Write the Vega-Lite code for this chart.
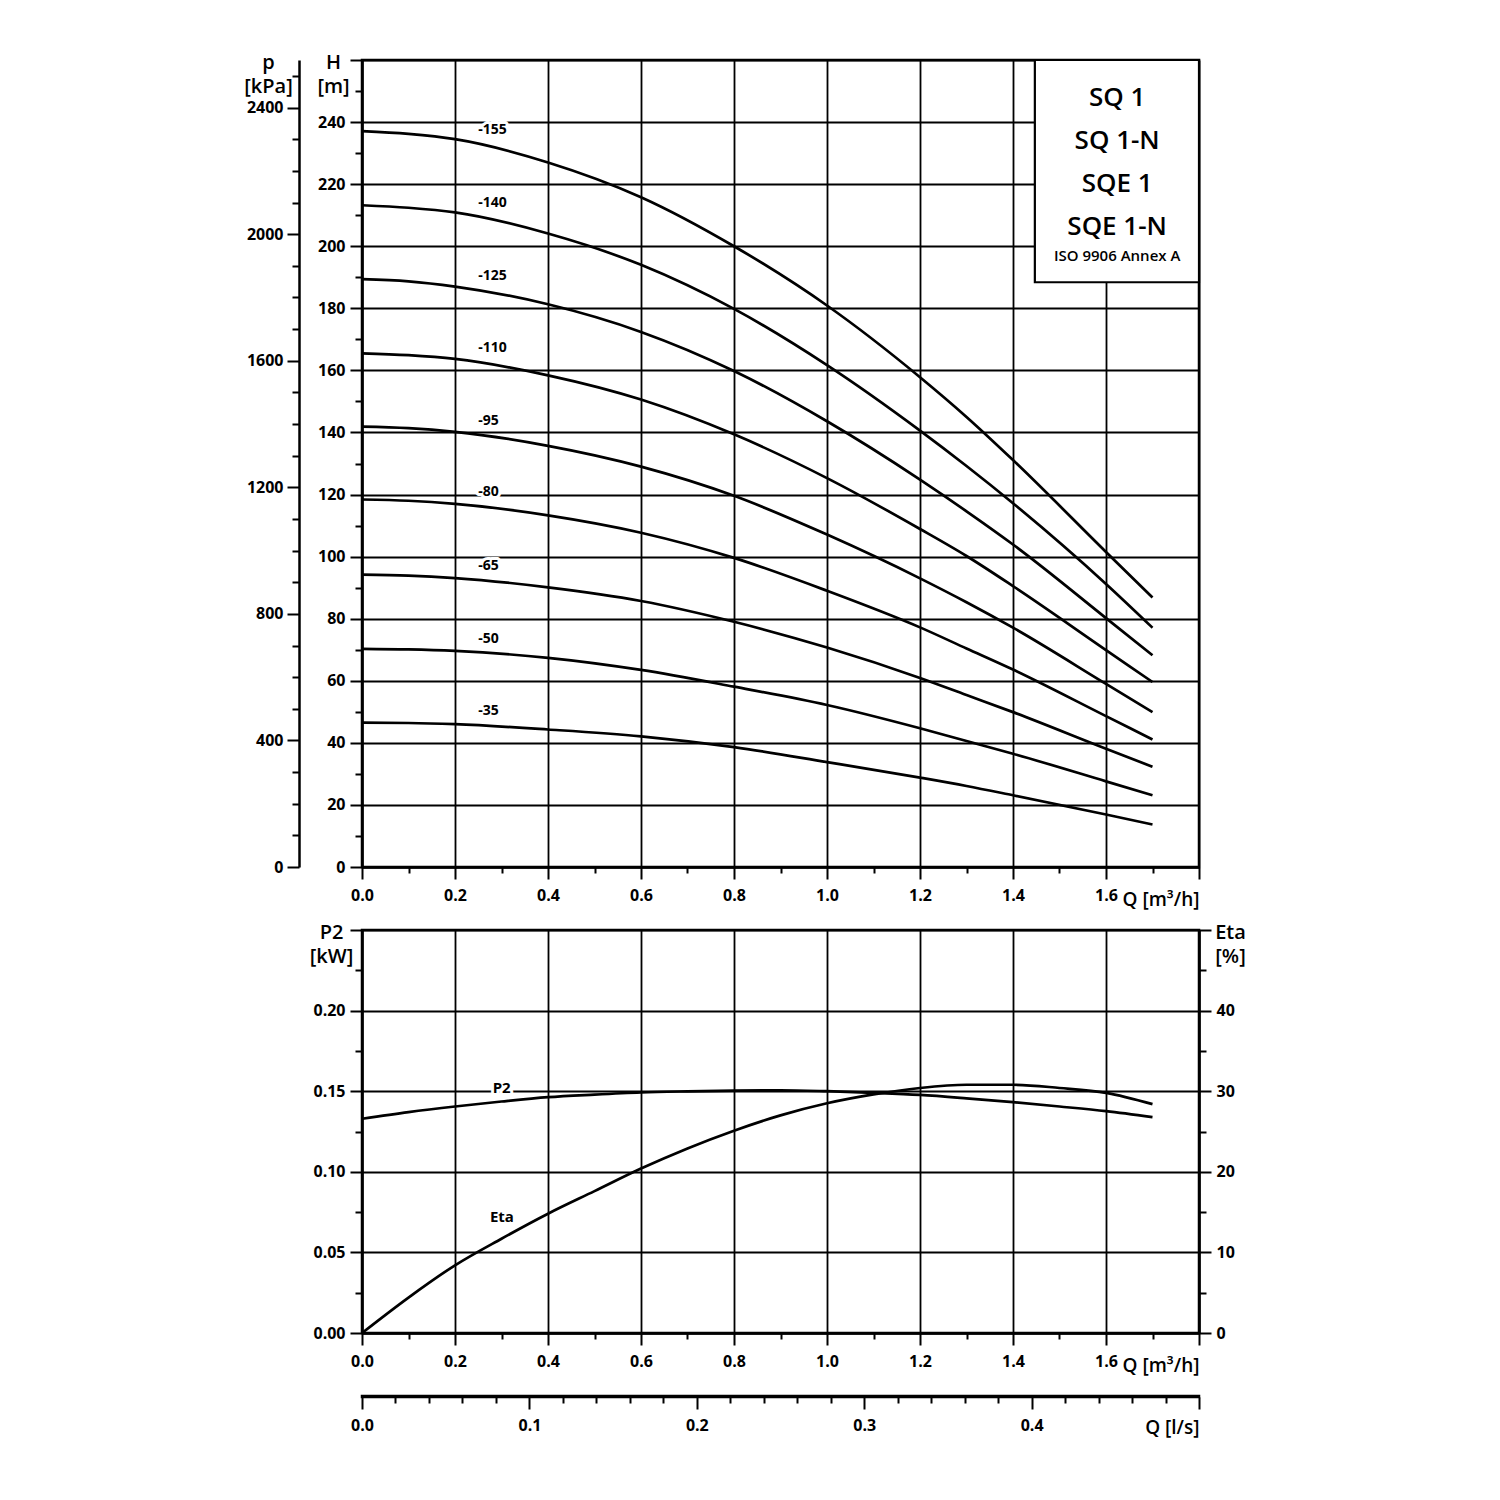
{
 "$schema": "https://vega.github.io/schema/vega-lite/v6.json",
 "background": "white",
 "padding": {"left": 242, "top": 50, "right": 10, "bottom": 10},
 "spacing": 63,
 "bounds": "flush",
 "config": {
  "font": "Open Sans",
  "view": {"stroke": "black", "strokeWidth": 2.5},
  "axis": {
   "domainColor": "black", "domainWidth": 2.5, "tickColor": "black", "tickWidth": 2,
   "gridColor": "black", "gridWidth": 1.8, "gridOpacity": 1,
   "labelColor": "black", "labelFont": "Open Sans", "labelFontSize": 16, "labelFontWeight": "bold",
   "titleColor": "black", "titleFont": "Open Sans", "titleFontSize": 20, "titleFontWeight": 600,
   "labelFlush": false, "labelOverlap": false, "labelBound": false
  }
 },
 "datasets": {
  "curves": [
   {"curve":"-155","Q":0,"H":237.1},{"curve":"-155","Q":0.1,"H":236.2},{"curve":"-155","Q":0.2,"H":234.5},{"curve":"-155","Q":0.4,"H":227.0},{"curve":"-155","Q":0.6,"H":215.8},{"curve":"-155","Q":0.8,"H":200.0},{"curve":"-155","Q":1.0,"H":180.9},{"curve":"-155","Q":1.2,"H":157.8},{"curve":"-155","Q":1.3,"H":145.0},{"curve":"-155","Q":1.4,"H":131.1},{"curve":"-155","Q":1.6,"H":101.5},{"curve":"-155","Q":1.7,"H":86.8},
   {"curve":"-140","Q":0,"H":213.2},{"curve":"-140","Q":0.1,"H":212.4},{"curve":"-140","Q":0.2,"H":210.9},{"curve":"-140","Q":0.4,"H":204.1},{"curve":"-140","Q":0.6,"H":194.0},{"curve":"-140","Q":0.8,"H":179.8},{"curve":"-140","Q":1.0,"H":161.7},{"curve":"-140","Q":1.2,"H":140.6},{"curve":"-140","Q":1.3,"H":129.2},{"curve":"-140","Q":1.4,"H":117.2},{"curve":"-140","Q":1.6,"H":91.2},{"curve":"-140","Q":1.7,"H":77.1},
   {"curve":"-125","Q":0,"H":189.4},{"curve":"-125","Q":0.1,"H":188.7},{"curve":"-125","Q":0.2,"H":187.0},{"curve":"-125","Q":0.4,"H":181.3},{"curve":"-125","Q":0.6,"H":172.4},{"curve":"-125","Q":0.8,"H":159.8},{"curve":"-125","Q":1.0,"H":143.6},{"curve":"-125","Q":1.2,"H":124.8},{"curve":"-125","Q":1.3,"H":114.6},{"curve":"-125","Q":1.4,"H":103.9},{"curve":"-125","Q":1.6,"H":80.2},{"curve":"-125","Q":1.7,"H":68.2},
   {"curve":"-110","Q":0,"H":165.5},{"curve":"-110","Q":0.1,"H":164.9},{"curve":"-110","Q":0.2,"H":163.7},{"curve":"-110","Q":0.4,"H":158.4},{"curve":"-110","Q":0.6,"H":150.6},{"curve":"-110","Q":0.8,"H":139.4},{"curve":"-110","Q":1.0,"H":125.3},{"curve":"-110","Q":1.2,"H":108.9},{"curve":"-110","Q":1.3,"H":100.2},{"curve":"-110","Q":1.4,"H":90.5},{"curve":"-110","Q":1.6,"H":69.9},{"curve":"-110","Q":1.7,"H":59.6},
   {"curve":"-95","Q":0,"H":141.9},{"curve":"-95","Q":0.1,"H":141.4},{"curve":"-95","Q":0.2,"H":140.2},{"curve":"-95","Q":0.4,"H":135.7},{"curve":"-95","Q":0.6,"H":129.0},{"curve":"-95","Q":0.8,"H":119.6},{"curve":"-95","Q":1.0,"H":107.1},{"curve":"-95","Q":1.2,"H":93.0},{"curve":"-95","Q":1.3,"H":85.3},{"curve":"-95","Q":1.4,"H":77.1},{"curve":"-95","Q":1.6,"H":59.0},{"curve":"-95","Q":1.7,"H":49.9},
   {"curve":"-80","Q":0,"H":118.4},{"curve":"-80","Q":0.1,"H":118.0},{"curve":"-80","Q":0.2,"H":117.0},{"curve":"-80","Q":0.4,"H":113.3},{"curve":"-80","Q":0.6,"H":107.7},{"curve":"-80","Q":0.8,"H":99.6},{"curve":"-80","Q":1.0,"H":89.0},{"curve":"-80","Q":1.2,"H":77.2},{"curve":"-80","Q":1.3,"H":70.4},{"curve":"-80","Q":1.4,"H":63.6},{"curve":"-80","Q":1.6,"H":48.6},{"curve":"-80","Q":1.7,"H":41.1},
   {"curve":"-65","Q":0,"H":94.2},{"curve":"-65","Q":0.1,"H":93.9},{"curve":"-65","Q":0.2,"H":93.1},{"curve":"-65","Q":0.4,"H":90.1},{"curve":"-65","Q":0.6,"H":85.7},{"curve":"-65","Q":0.8,"H":79.0},{"curve":"-65","Q":1.0,"H":70.7},{"curve":"-65","Q":1.2,"H":60.9},{"curve":"-65","Q":1.3,"H":55.4},{"curve":"-65","Q":1.4,"H":49.9},{"curve":"-65","Q":1.6,"H":38.1},{"curve":"-65","Q":1.7,"H":32.3},
   {"curve":"-50","Q":0,"H":70.3},{"curve":"-50","Q":0.1,"H":70.1},{"curve":"-50","Q":0.2,"H":69.6},{"curve":"-50","Q":0.4,"H":67.4},{"curve":"-50","Q":0.6,"H":63.5},{"curve":"-50","Q":0.8,"H":58.1},{"curve":"-50","Q":1.0,"H":52.2},{"curve":"-50","Q":1.2,"H":44.7},{"curve":"-50","Q":1.3,"H":40.6},{"curve":"-50","Q":1.4,"H":36.5},{"curve":"-50","Q":1.6,"H":27.6},{"curve":"-50","Q":1.7,"H":23.1},
   {"curve":"-35","Q":0,"H":46.5},{"curve":"-35","Q":0.1,"H":46.4},{"curve":"-35","Q":0.2,"H":46.0},{"curve":"-35","Q":0.4,"H":44.3},{"curve":"-35","Q":0.6,"H":42.1},{"curve":"-35","Q":0.8,"H":38.6},{"curve":"-35","Q":1.0,"H":33.8},{"curve":"-35","Q":1.2,"H":28.8},{"curve":"-35","Q":1.3,"H":26.1},{"curve":"-35","Q":1.4,"H":23.1},{"curve":"-35","Q":1.6,"H":16.9},{"curve":"-35","Q":1.7,"H":13.7}
  ],
  "curveLabels": [
   {"label":"-155","Q":0.25,"H":233.0},{"label":"-140","Q":0.25,"H":209.5},{"label":"-125","Q":0.25,"H":185.8},
   {"label":"-110","Q":0.25,"H":162.6},{"label":"-95","Q":0.25,"H":139.2},{"label":"-80","Q":0.25,"H":116.2},
   {"label":"-65","Q":0.25,"H":92.5},{"label":"-50","Q":0.25,"H":69.1},{"label":"-35","Q":0.25,"H":45.6}
  ],
  "pump": [
   {"Q":0,"P2":0.1329,"Eta":0},{"Q":0.1,"P2":0.1370,"Eta":4.4},{"Q":0.2,"P2":0.1405,"Eta":8.4},{"Q":0.3,"P2":0.1436,"Eta":11.7},
   {"Q":0.4,"P2":0.1463,"Eta":14.8},{"Q":0.5,"P2":0.1479,"Eta":17.6},{"Q":0.6,"P2":0.1492,"Eta":20.4},{"Q":0.7,"P2":0.1499,"Eta":22.9},
   {"Q":0.8,"P2":0.1504,"Eta":25.1},{"Q":0.9,"P2":0.1506,"Eta":27.0},{"Q":1.0,"P2":0.1500,"Eta":28.5},{"Q":1.1,"P2":0.1490,"Eta":29.6},
   {"Q":1.2,"P2":0.1477,"Eta":30.4},{"Q":1.3,"P2":0.1456,"Eta":30.8},{"Q":1.4,"P2":0.1432,"Eta":30.8},{"Q":1.5,"P2":0.1405,"Eta":30.4},
   {"Q":1.6,"P2":0.1376,"Eta":29.8},{"Q":1.7,"P2":0.1339,"Eta":28.4}
  ],
  "pumpLabels": [
   {"label":"P2","Q":0.281,"P2":0.1430}
  ],
  "etaLabels": [
   {"label":"Eta","Q":0.275,"Eta":10.8}
  ],
  "flowLs": [
   {"Qls":0},{"Qls":0.472}
  ],
  "box": [
   {"model":"SQ"}
  ]
 },
 "vconcat": [
  {
   "width": 837, "height": 807,
   "resolve": {"axis": {"x": "independent", "y": "independent"}},
   "layer": [
    {
     "data": {"name": "curves"},
     "mark": {"type": "line", "interpolate": "monotone", "color": "black", "strokeWidth": 2.7},
     "encoding": {
      "x": {"field": "Q", "type": "quantitative", "scale": {"domain": [0, 1.8], "nice": false},
       "axis": {"orient": "bottom", "values": [0, 0.2, 0.4, 0.6, 0.8, 1.0, 1.2, 1.4, 1.6, 1.8], "format": ".1f",
        "labelExpr": "datum.value > 1.7 ? '' : datum.label", "grid": true, "tickSize": 12, "labelPadding": 8,
        "title": "Q [m³/h]", "titleFontSize": 19, "titleX": 837, "titleY": 38, "titleAlign": "right", "titleBaseline": "alphabetic"}},
      "y": {"field": "H", "type": "quantitative", "scale": {"domain": [0, 260], "nice": false},
       "axis": {"orient": "left", "values": [0, 20, 40, 60, 80, 100, 120, 140, 160, 180, 200, 220, 240, 260],
        "labelExpr": "datum.value > 250 ? '' : datum.label", "grid": true, "tickSize": 12, "labelPadding": 5,
        "title": ["H", "[m]"], "titleAngle": 0, "titleX": -29, "titleY": -8, "titleAlign": "center", "titleBaseline": "top", "titleLineHeight": 24}},
      "detail": {"field": "curve", "type": "nominal"}
     }
    },
    {
     "data": {"name": "curves"},
     "mark": {"type": "point", "opacity": 0},
     "encoding": {
      "x": {"field": "Q", "type": "quantitative", "scale": {"domain": [0, 1.8], "nice": false},
       "axis": {"orient": "bottom", "values": [0.1, 0.3, 0.5, 0.7, 0.9, 1.1, 1.3, 1.5, 1.7], "tickSize": 6, "labels": false, "domain": false, "grid": false, "title": null}},
      "y": {"field": "H", "type": "quantitative", "scale": {"domain": [0, 260], "nice": false},
       "axis": {"orient": "left", "values": [10, 30, 50, 70, 90, 110, 130, 150, 170, 190, 210, 230, 250], "tickSize": 7, "labels": false, "domain": false, "grid": false, "title": null}}
     }
    },
    {
     "data": {"name": "curves"},
     "mark": {"type": "point", "opacity": 0},
     "encoding": {
      "x": {"field": "Q", "type": "quantitative", "scale": {"domain": [0, 1.8], "nice": false}, "axis": null},
      "y": {"field": "H", "type": "quantitative", "scale": {"domain": [0, 260], "nice": false},
       "axis": {"orient": "left", "offset": 63, "values": [0, 40.77472, 81.54944, 122.32416, 163.09888, 203.8736, 244.64832],
        "labelExpr": "format(datum.value * 9.81, '.0f')", "tickSize": 12, "labelPadding": 4, "grid": false, "domain": true,
        "title": ["p", "[kPa]"], "titleAngle": 0, "titleX": -31, "titleY": -8, "titleAlign": "center", "titleBaseline": "top", "titleLineHeight": 24}}
     }
    },
    {
     "data": {"name": "curves"},
     "mark": {"type": "point", "opacity": 0},
     "encoding": {
      "x": {"field": "Q", "type": "quantitative", "scale": {"domain": [0, 1.8], "nice": false}, "axis": null},
      "y": {"field": "H", "type": "quantitative", "scale": {"domain": [0, 260], "nice": false},
       "axis": {"orient": "left", "offset": 63,
        "values": [10.19368, 20.38736, 30.58104, 50.9684, 61.16208, 71.35576, 91.74312, 101.9368, 112.13048, 132.51784, 142.71152, 152.9052, 173.29256, 183.48624, 193.67992, 214.06728, 224.26096, 234.45464, 254.842],
        "tickSize": 7, "labels": false, "domain": false, "grid": false, "title": null}}
     }
    },
    {
     "data": {"name": "box"},
     "mark": {"type": "rect", "fill": "white", "stroke": "black", "strokeWidth": 2.2},
     "encoding": {
      "x": {"datum": 1.447, "type": "quantitative", "scale": {"domain": [0, 1.8], "nice": false}, "axis": null},
      "x2": {"datum": 1.8},
      "y": {"datum": 260, "type": "quantitative", "scale": {"domain": [0, 260], "nice": false}, "axis": null},
      "y2": {"datum": 188.4}
     }
    },
    {
     "data": {"name": "box"},
     "mark": {"type": "text", "text": ["SQ 1", "SQ 1-N", "SQE 1", "SQE 1-N"], "lineHeight": 43, "fontSize": 26, "fontWeight": 600, "align": "center", "baseline": "top", "fill": "black", "font": "Open Sans"},
     "encoding": {
      "x": {"datum": 1.624, "type": "quantitative", "scale": {"domain": [0, 1.8], "nice": false}, "axis": null},
      "y": {"datum": 251.9, "type": "quantitative", "scale": {"domain": [0, 260], "nice": false}, "axis": null}
     }
    },
    {
     "data": {"name": "box"},
     "mark": {"type": "text", "text": "ISO 9906 Annex A", "fontSize": 15, "fontWeight": 600, "align": "center", "baseline": "top", "fill": "black", "font": "Open Sans"},
     "encoding": {
      "x": {"datum": 1.624, "type": "quantitative", "scale": {"domain": [0, 1.8], "nice": false}, "axis": null},
      "y": {"datum": 199.0, "type": "quantitative", "scale": {"domain": [0, 260], "nice": false}, "axis": null}
     }
    },
    {
     "data": {"name": "curveLabels"},
     "mark": {"type": "text", "align": "left", "baseline": "middle", "dy": -14, "fontSize": 14, "fontWeight": "bold", "font": "Open Sans", "fill": "white", "stroke": "white", "strokeWidth": 6, "strokeJoin": "round"},
     "encoding": {
      "x": {"field": "Q", "type": "quantitative", "scale": {"domain": [0, 1.8], "nice": false}, "axis": null},
      "y": {"field": "H", "type": "quantitative", "scale": {"domain": [0, 260], "nice": false}, "axis": null},
      "text": {"field": "label", "type": "nominal"}
     }
    },
    {
     "data": {"name": "curveLabels"},
     "mark": {"type": "text", "align": "left", "baseline": "middle", "dy": -14, "fontSize": 14, "fontWeight": "bold", "font": "Open Sans", "fill": "black"},
     "encoding": {
      "x": {"field": "Q", "type": "quantitative", "scale": {"domain": [0, 1.8], "nice": false}, "axis": null},
      "y": {"field": "H", "type": "quantitative", "scale": {"domain": [0, 260], "nice": false}, "axis": null},
      "text": {"field": "label", "type": "nominal"}
     }
    }
   ]
  },
  {
   "width": 837, "height": 403,
   "resolve": {"scale": {"y": "independent"}, "axis": {"x": "independent", "y": "independent"}},
   "layer": [
    {
     "data": {"name": "pump"},
     "mark": {"type": "line", "interpolate": "monotone", "color": "black", "strokeWidth": 2.7},
     "encoding": {
      "x": {"field": "Q", "type": "quantitative", "scale": {"domain": [0, 1.8], "nice": false},
       "axis": {"orient": "bottom", "values": [0, 0.2, 0.4, 0.6, 0.8, 1.0, 1.2, 1.4, 1.6, 1.8], "format": ".1f",
        "labelExpr": "datum.value > 1.7 ? '' : datum.label", "grid": true, "tickSize": 12, "labelPadding": 8,
        "title": "Q [m³/h]", "titleFontSize": 19, "titleX": 837, "titleY": 38, "titleAlign": "right", "titleBaseline": "alphabetic"}},
      "y": {"field": "P2", "type": "quantitative", "scale": {"domain": [0, 0.25], "nice": false},
       "axis": {"orient": "left", "values": [0, 0.05, 0.1, 0.15, 0.2, 0.25], "format": ".2f",
        "labelExpr": "datum.value > 0.24 ? '' : datum.label", "grid": true, "tickSize": 12, "labelPadding": 5,
        "title": ["P2", "[kW]"], "titleAngle": 0, "titleX": -31, "titleY": -8, "titleAlign": "center", "titleBaseline": "top", "titleLineHeight": 24}}
     }
    },
    {
     "data": {"name": "pump"},
     "mark": {"type": "point", "opacity": 0},
     "encoding": {
      "x": {"field": "Q", "type": "quantitative", "scale": {"domain": [0, 1.8], "nice": false},
       "axis": {"orient": "bottom", "values": [0.1, 0.3, 0.5, 0.7, 0.9, 1.1, 1.3, 1.5, 1.7], "tickSize": 6, "labels": false, "domain": false, "grid": false, "title": null}},
      "y": {"field": "P2", "type": "quantitative", "scale": {"domain": [0, 0.25], "nice": false},
       "axis": {"orient": "left", "values": [0.025, 0.075, 0.125, 0.175, 0.225], "tickSize": 7, "labels": false, "domain": false, "grid": false, "title": null}}
     }
    },
    {
     "data": {"name": "pump"},
     "mark": {"type": "line", "interpolate": "monotone", "color": "black", "strokeWidth": 2.7},
     "encoding": {
      "x": {"field": "Q", "type": "quantitative", "scale": {"domain": [0, 1.8], "nice": false}, "axis": null},
      "y": {"field": "Eta", "type": "quantitative", "scale": {"domain": [0, 50], "nice": false},
       "axis": {"orient": "right", "values": [0, 10, 20, 30, 40, 50],
        "labelExpr": "datum.value > 45 ? '' : datum.label", "grid": false, "tickSize": 12, "labelPadding": 5,
        "title": ["Eta", "[%]"], "titleAngle": 0, "titleX": 31, "titleY": -8, "titleAlign": "center", "titleBaseline": "top", "titleLineHeight": 24}}
     }
    },
    {
     "data": {"name": "pump"},
     "mark": {"type": "point", "opacity": 0},
     "encoding": {
      "x": {"field": "Q", "type": "quantitative", "scale": {"domain": [0, 1.8], "nice": false}, "axis": null},
      "y": {"field": "Eta", "type": "quantitative", "scale": {"domain": [0, 50], "nice": false},
       "axis": {"orient": "right", "values": [5, 15, 25, 35, 45], "tickSize": 7, "labels": false, "domain": false, "grid": false, "title": null}}
     }
    },
    {
     "data": {"name": "pumpLabels"},
     "mark": {"type": "text", "align": "left", "baseline": "middle", "dy": -14, "fontSize": 15, "fontWeight": "bold", "font": "Open Sans", "fill": "white", "stroke": "white", "strokeWidth": 6, "strokeJoin": "round"},
     "encoding": {
      "x": {"field": "Q", "type": "quantitative", "scale": {"domain": [0, 1.8], "nice": false}, "axis": null},
      "y": {"field": "P2", "type": "quantitative", "scale": {"domain": [0, 0.25], "nice": false}, "axis": null},
      "text": {"field": "label", "type": "nominal"}
     }
    },
    {
     "data": {"name": "pumpLabels"},
     "mark": {"type": "text", "align": "left", "baseline": "middle", "dy": -14, "fontSize": 15, "fontWeight": "bold", "font": "Open Sans", "fill": "black"},
     "encoding": {
      "x": {"field": "Q", "type": "quantitative", "scale": {"domain": [0, 1.8], "nice": false}, "axis": null},
      "y": {"field": "P2", "type": "quantitative", "scale": {"domain": [0, 0.25], "nice": false}, "axis": null},
      "text": {"field": "label", "type": "nominal"}
     }
    },
    {
     "data": {"name": "etaLabels"},
     "mark": {"type": "text", "align": "left", "baseline": "middle", "dy": -29, "fontSize": 15, "fontWeight": "bold", "font": "Open Sans", "fill": "black"},
     "encoding": {
      "x": {"field": "Q", "type": "quantitative", "scale": {"domain": [0, 1.8], "nice": false}, "axis": null},
      "y": {"field": "Eta", "type": "quantitative", "scale": {"domain": [0, 50], "nice": false}, "axis": null},
      "text": {"field": "label", "type": "nominal"}
     }
    }
   ]
  },
  {
   "width": 837, "height": 1,
   "data": {"name": "flowLs"},
   "resolve": {"axis": {"x": "independent"}},
   "layer": [
    {
     "mark": {"type": "point", "opacity": 0},
     "encoding": {
      "x": {"field": "Qls", "type": "quantitative", "scale": {"domain": [0, 0.5], "nice": false},
       "axis": {"orient": "bottom", "values": [0, 0.1, 0.2, 0.3, 0.4, 0.5], "format": ".1f",
        "labelExpr": "datum.value > 0.45 ? '' : datum.label", "grid": false, "domain": false, "tickSize": 12, "labelPadding": 8,
        "title": "Q [l/s]", "titleFontSize": 19, "titleX": 837, "titleY": 36, "titleAlign": "right", "titleBaseline": "alphabetic"}},
      "y": {"field": "Qls", "type": "quantitative", "axis": null}
     }
    },
    {
     "mark": {"type": "point", "opacity": 0},
     "encoding": {
      "x": {"field": "Qls", "type": "quantitative", "scale": {"domain": [0, 0.5], "nice": false},
       "axis": {"orient": "bottom", "values": [0.02, 0.04, 0.06, 0.08, 0.12, 0.14, 0.16, 0.18, 0.22, 0.24, 0.26, 0.28, 0.32, 0.34, 0.36, 0.38, 0.42, 0.44, 0.46, 0.48],
        "tickSize": 6, "labels": false, "domain": false, "grid": false, "title": null}},
      "y": {"field": "Qls", "type": "quantitative", "axis": null}
     }
    }
   ]
  }
 ]
}
